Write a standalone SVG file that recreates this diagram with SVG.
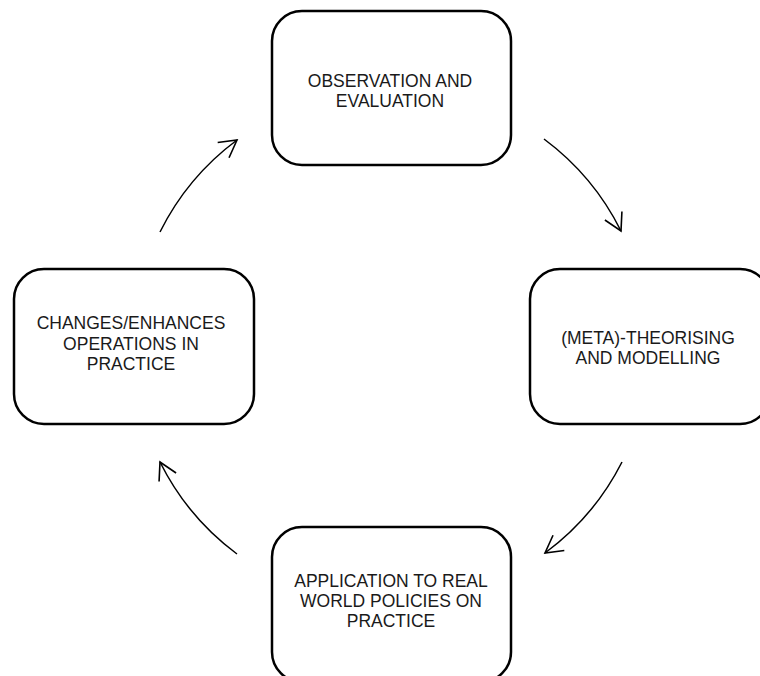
<svg xmlns="http://www.w3.org/2000/svg" width="760" height="676" viewBox="0 0 760 676">
<style>
.box{fill:#fff;stroke:#000;stroke-width:2.5}
.lbl{font-family:"Liberation Sans",Arial,sans-serif;font-size:17.5px;fill:#1a1a1a;text-anchor:middle}
.arc{fill:none;stroke:#000;stroke-width:1.5}
</style>
<defs>
<marker id="ah" markerUnits="userSpaceOnUse" viewBox="-20 -12 24 24" markerWidth="24" markerHeight="24" refX="0" refY="0" orient="auto">
<path d="M-17,-9.5 L0,0 L-17,9.5" fill="none" stroke="#000" stroke-width="1.6"/>
</marker>
</defs>
<rect width="760" height="676" fill="#fff"/>
<g id="connectors">
<path class="arc" d="M160,232 A258,258 0 0 1 237,140" marker-end="url(#ah)"/>
<path class="arc" d="M544,139 A258,258 0 0 1 621,231" marker-end="url(#ah)"/>
<path class="arc" d="M622,462 A258,258 0 0 1 545,553" marker-end="url(#ah)"/>
<path class="arc" d="M237,554 A258,258 0 0 1 160,462" marker-end="url(#ah)"/>
</g>
<g id="observation">
<rect class="box" x="272" y="11" width="239" height="154" rx="30"/>
<text class="lbl" x="390" y="87">OBSERVATION AND</text>
<text class="lbl" x="390" y="107">EVALUATION</text>
</g>
<g id="theorising">
<rect class="box" x="530" y="269" width="240" height="155" rx="30"/>
<text class="lbl" x="648" y="344">(META)-THEORISING</text>
<text class="lbl" x="648" y="364">AND MODELLING</text>
</g>
<g id="application">
<rect class="box" x="272" y="527" width="239" height="155" rx="30"/>
<text class="lbl" x="391" y="587">APPLICATION TO REAL</text>
<text class="lbl" x="391" y="607">WORLD POLICIES ON</text>
<text class="lbl" x="391" y="627">PRACTICE</text>
</g>
<g id="changes">
<rect class="box" x="14" y="269" width="240" height="155" rx="30"/>
<text class="lbl" x="131" y="329">CHANGES/ENHANCES</text>
<text class="lbl" x="131" y="350">OPERATIONS IN</text>
<text class="lbl" x="131" y="370">PRACTICE</text>
</g>
</svg>
